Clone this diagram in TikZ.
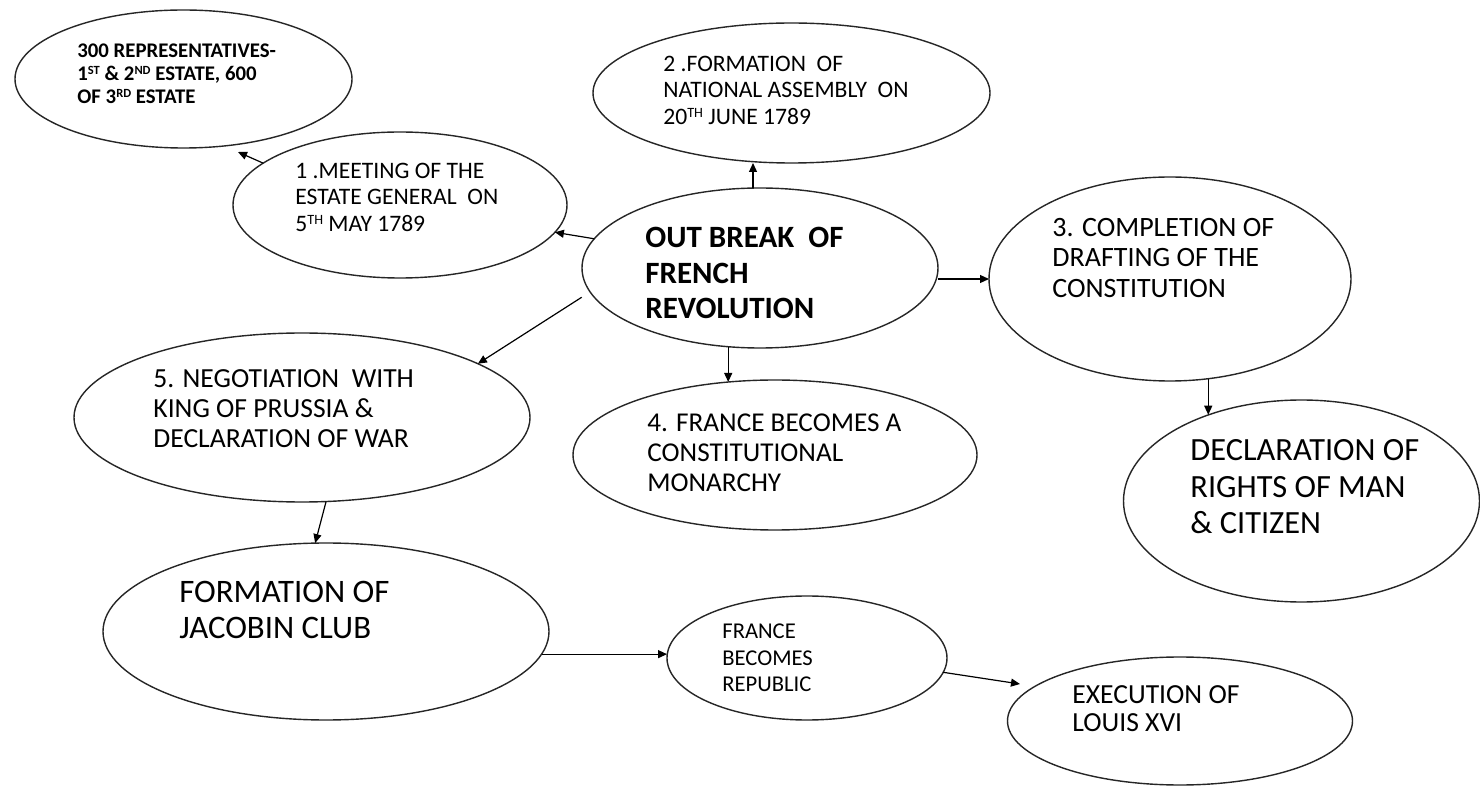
\documentclass[tikz,border=0pt]{standalone}
\usepackage{fontspec}
\setmainfont{Carlito}
\usetikzlibrary{shapes.geometric,arrows.meta}
\newcommand\supx[1]{\raisebox{0.6ex}{\scalebox{0.6}{#1}}}
\tikzset{
  ell/.style={ellipse, draw=black!85, line width=0.7pt, inner sep=0pt, outer sep=0pt},
  txt/.style={anchor=west, align=left, inner sep=0pt, text=black},
  arr/.style={-{Triangle[length=4.5pt,width=4pt]}, line width=0.6pt, draw=black},
}
\begin{document}
\begin{tikzpicture}[x=0.5pt,y=-0.5pt]
\fill[white] (0,0) rectangle (1480,786);
\useasboundingbox (0,0) rectangle (1480,786);

% ellipses
\node[ell, minimum width=168.5pt, minimum height=69pt] (n0) at (183.5,79) {};
\node[ell, minimum width=167pt, minimum height=73pt] (n1) at (400,205) {};
\node[ell, minimum width=198.5pt, minimum height=70pt] (n2) at (791.5,93) {};
\node[ell, minimum width=178pt, minimum height=80pt] (nc) at (760,268) {};
\node[ell, minimum width=181pt, minimum height=102pt] (n4) at (1170,279) {};
\node[ell, minimum width=178pt, minimum height=101pt] (n5) at (1301.5,501) {};
\node[ell, minimum width=228pt, minimum height=84.5pt] (n6) at (302,417.5) {};
\node[ell, minimum width=202pt, minimum height=75pt] (n7) at (775,455) {};
\node[ell, minimum width=223pt, minimum height=88.5pt] (n8) at (326,631.5) {};
\node[ell, minimum width=140pt, minimum height=62pt] (n9) at (807,658) {};
\node[ell, minimum width=172.5pt, minimum height=64pt] (n10) at (1180,721) {};

% texts
\node[txt, font={\bfseries\fontsize{10.4}{11.5}\selectfont}] (t0) at (77,74)
  {300 REPRESENTATIVES-\\1\supx{ST} \& 2\supx{ND} ESTATE, 600\\OF 3\supx{RD} ESTATE};
\node[txt, font={\fontsize{11.8}{13.25}\selectfont}] (t1) at (295,197)
  {1 .MEETING OF THE\\ESTATE GENERAL\ \ ON\\5\supx{TH} MAY 1789};
\node[txt, font={\fontsize{11.8}{13.25}\selectfont}] (t2) at (663,90)
  {2 .FORMATION\ \ OF\\NATIONAL ASSEMBLY\ \ ON\\20\supx{TH} JUNE 1789};
\node[txt, font={\bfseries\fontsize{15.5}{17.75}\selectfont}] (tc) at (645,273)
  {OUT BREAK\ \ OF\\FRENCH\\REVOLUTION};
\node[txt, font={\fontsize{14}{15.25}\selectfont}] (t4) at (1052,258)
  {3. COMPLETION OF\\DRAFTING OF THE\\CONSTITUTION};
\node[txt, font={\fontsize{16.2}{18.25}\selectfont}] (t5) at (1190,487)
  {DECLARATION OF\\RIGHTS OF MAN\\\& CITIZEN};
\node[txt, font={\fontsize{13.8}{15}\selectfont}] (t6) at (153,409)
  {5. NEGOTIATION\ \ WITH\\KING OF PRUSSIA \&\\DECLARATION OF WAR};
\node[txt, font={\fontsize{13.6}{15}\selectfont}] (t7) at (647,453)
  {4. FRANCE BECOMES A\\CONSTITUTIONAL\\MONARCHY};
\node[txt, font={\fontsize{16.4}{18}\selectfont}] (t8) at (179,610)
  {FORMATION OF\\JACOBIN CLUB};
\node[txt, font={\fontsize{11.3}{13.25}\selectfont}] (t9) at (722,658)
  {FRANCE\\BECOMES\\REPUBLIC};
\node[txt, font={\fontsize{13.8}{14}\selectfont}] (t10) at (1072,709)
  {EXECUTION OF\\LOUIS XVI};

% free ends
\coordinate (a0) at (238,152);
\coordinate (a10) at (1020,684);

% connectors
\draw[arr] (nc.170.5) -- (n1.-10.4);
\draw[arr] (n1.163.1) -- (a0);
\draw[arr] (nc.95.7) -- (nc.95.7 |- n2.south);
\draw[arr] (n4.west -| nc.east) -- (n4.west);
\draw[arr] (n4.-69.7) -- (n4.-69.7 |- n5.137.7);
\draw[arr] (nc.-112.1) -- (nc.-112.1 |- n7.122.8);
\draw[arr, shorten <=5pt] (nc.188.2) -- (n6.17.1);
\draw[arr] (n6.-74.6) -- (n8.97.7);
\draw[arr] (n8.-6.8) -- (n8.-6.8 -| n9.west);
\draw[arr] (n9.-6.4) -- (a10);
\end{tikzpicture}
\end{document}
